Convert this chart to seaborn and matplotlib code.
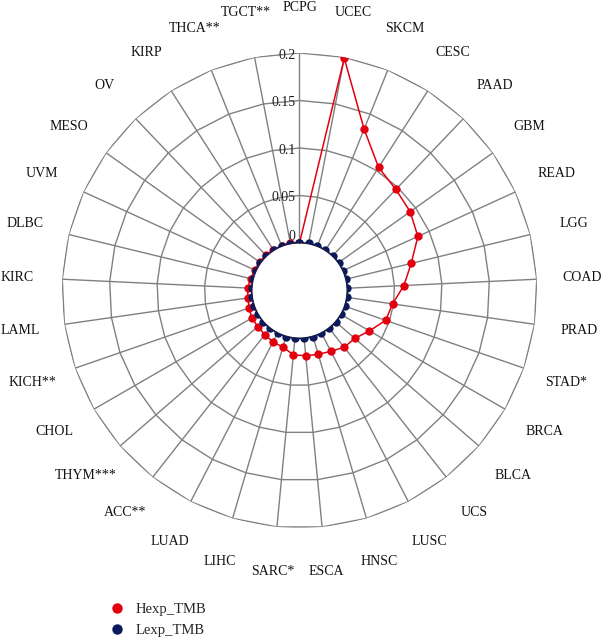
import numpy as np
import pandas as pd
import matplotlib
matplotlib.use("Agg")
import matplotlib.pyplot as plt
import seaborn as sns
from matplotlib.lines import Line2D

# ---- data -----------------------------------------------------------
categories = ['PCPG', 'UCEC', 'SKCM', 'CESC', 'PAAD', 'GBM', 'READ', 'LGG',
              'COAD', 'PRAD', 'STAD*', 'BRCA', 'BLCA', 'UCS', 'LUSC', 'HNSC',
              'ESCA', 'SARC*', 'LIHC', 'LUAD', 'ACC**', 'THYM***', 'CHOL',
              'KICH**', 'LAML', 'KIRC', 'DLBC', 'UVM', 'MESO', 'OV', 'KIRP',
              'THCA**', 'TGCT**']
hexp_tmb = [0.0, 0.199, 0.133, 0.104, 0.097, 0.093, 0.087, 0.071,
            0.060, 0.049, 0.046, 0.035, 0.027, 0.026, 0.022, 0.020,
            0.019, 0.018, 0.012, 0.011, 0.009, 0.008, 0.008,
            0.006, 0.005, 0.0045, 0.003, 0.002, 0.0015, 0.001, 0.001,
            0.0008, 0.0005]
lexp_tmb = [0.0003, 0.0004, 0.0004, 0.0005, 0.0005, 0.0005, 0.0005, 0.0005,
            0.0005, 0.0005, 0.0005, 0.0005, 0.0005, 0.0005, 0.0005, 0.0005,
            0.0005, 0.0005, 0.0005, 0.0005, 0.0005, 0.0005, 0.0005,
            0.0005, 0.0005, 0.0005, 0.0005, 0.0005, 0.0004, 0.0004, 0.0004,
            0.0003, 0.0003]
series_names = ['Hexp_TMB', 'Lexp_TMB']
radial_ticks = [0, 0.05, 0.1, 0.15, 0.2]
radial_tick_labels = ['0', '0.05', '0.1', '0.15', '0.2']

RED = '#E2000F'
NAVY = '#0C1A5C'
GRID = '#808080'

sns.set_style("white")
plt.rcParams['font.family'] = ['Liberation Serif', 'DejaVu Serif']

n = len(categories)
angles = np.arange(n) * 2 * np.pi / n
angles_closed = np.append(angles, angles[0])

fig = plt.figure(figsize=(6.06, 6.39), dpi=100)
ax = fig.add_axes([62 / 606, 111 / 639, 475 / 606, 475 / 639], projection='polar')
ax.set_theta_zero_location('N')
ax.set_theta_direction(-1)
ax.set_ylim(0, 0.2)
ax.set_rorigin(-0.05)
ax.grid(False)
for sp in ax.spines.values():
    sp.set_visible(False)
ax.set_xticks([])
ax.set_yticks([])
ax.patch.set_alpha(0)

# polygon grid rings and spokes
for r in radial_ticks:
    ax.plot(angles_closed, [r] * (n + 1), color=GRID, lw=1.0, zorder=1)
for t in angles:
    ax.plot([t, t], [0, 0.2], color=GRID, lw=1.0, zorder=1)

# data series
df = pd.DataFrame({
    'theta': np.concatenate([angles_closed, angles_closed]),
    'value': np.concatenate([np.append(hexp_tmb, hexp_tmb[0]),
                             np.append(lexp_tmb, lexp_tmb[0])]),
    'series': [series_names[0]] * (n + 1) + [series_names[1]] * (n + 1),
})
sns.lineplot(data=df, x='theta', y='value', hue='series',
             palette={series_names[0]: RED, series_names[1]: NAVY},
             sort=False, estimator=None, marker='o', markersize=6,
             markeredgewidth=0, lw=1.1, ax=ax, legend=False, zorder=3)
ax.set_xlabel('')
ax.set_ylabel('')
ax.set_ylim(0, 0.2)
ax.set_rorigin(-0.05)

# radial tick labels
for r, lab in zip(radial_ticks, radial_tick_labels):
    dy = 5 if r == 0 else -1.5
    ax.annotate(lab, xy=(0, r), xytext=(-3, dy), textcoords='offset points',
                ha='right', va='center', fontsize=10, color='#222222',
                zorder=2)

# category labels
for t, lab in zip(angles, categories):
    ax.text(t, 0.2475, lab, ha='center', va='center', fontsize=10,
            color='#111111', clip_on=False)

handles = [Line2D([], [], ls='none', marker='o', markersize=7.5,
                  markerfacecolor=RED, markeredgewidth=0),
           Line2D([], [], ls='none', marker='o', markersize=7.5,
                  markerfacecolor=NAVY, markeredgewidth=0)]
fig.legend(handles, series_names, loc='upper left',
           bbox_to_anchor=(102 / 606, 46.5 / 639), frameon=False,
           fontsize=10.5, handlelength=0.7, handletextpad=0.88,
           labelspacing=0.52, borderpad=0.2)

fig.savefig('out.png', dpi=100)
